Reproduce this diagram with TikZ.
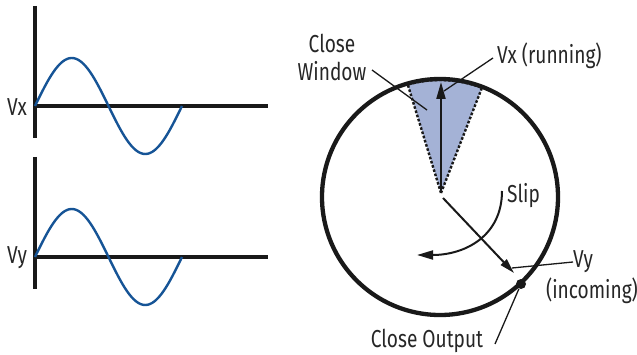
\documentclass[tikz,border=0pt]{standalone}
\usepackage{fontspec}
\setmainfont{Fira Sans}[FakeStretch=0.78]
\usetikzlibrary{arrows.meta}
\definecolor{wave}{RGB}{22,84,150}
\definecolor{wedge}{RGB}{164,178,214}
\tikzset{
  axis/.style={line width=4pt, black!90},
  sine/.style={line width=2.4pt, wave},
  ring/.style={line width=4.3pt, black!90},
  lead/.style={line width=1.3pt, black!90},
  vec/.style={line width=2pt, black!90, -{Triangle[length=17pt,width=9pt]}},
  lbl/.style={inner sep=0pt, font=\fontsize{24.5}{28}\selectfont, text=black!85},
}
\begin{document}
\begin{tikzpicture}[x=1pt,y=-1pt]
\useasboundingbox (0,0) rectangle (637,355);
% top plot
\coordinate (ta) at (35,6);
\coordinate (tb) at (35,138);
\coordinate (tc) at (35,106);
\coordinate (td) at (268,106);
\draw[axis] (ta) -- (tb);
\draw[axis] (tc) -- (td);
\draw[sine] plot[domain=0:360, samples=80] ({35+\x/360*147},{106-48*sin(\x)});
\node[lbl] (vx) at (17,107) {Vx};
% bottom plot
\coordinate (ba) at (35,157);
\coordinate (bb) at (35,289);
\coordinate (bc) at (35,257);
\coordinate (bd) at (268,257);
\draw[axis] (ba) -- (bb);
\draw[axis] (bc) -- (bd);
\draw[sine] plot[domain=0:360, samples=80] ({35+\x/360*147},{257-48*sin(\x)});
\node[lbl] (vy) at (17,258) {Vy};
% wheel
\coordinate (C) at (440,197);
\coordinate (O) at (441,193);
\fill[wedge] (O) -- plot[domain=69:106, samples=20] ({440+118*cos(\x)},{197-118*sin(\x)}) -- cycle;
\draw[ring] (C) circle[radius=118];
\draw[line width=2.4pt, black!90, dash pattern=on 2.6pt off 1.8pt]
  (O) -- plot[domain=69:106, samples=20] ({440+117*cos(\x)},{197-117*sin(\x)}) -- cycle;
\coordinate (vxtip) at (441,82);
\draw[vec] (O) -- (vxtip);
\coordinate (O2) at (443,198);
\coordinate (vytip) at (514,273);
\draw[line width=2pt, black!90, -{Triangle[length=15pt,width=8pt]}] (O2) -- (vytip);
\node[circle, fill=black!90, inner sep=0pt, minimum size=10pt] (dot) at (521,284) {};
% slip
\coordinate (s0) at (502,191);
\coordinate (s1) at (417,255);
\draw[line width=2pt, black!90, -{Triangle[length=16pt,width=9pt]}] (s0) .. controls (502,236) and (465,255) .. (s1);
\node[lbl, anchor=west] (slip) at (507,196) {Slip};
% labels
\node[lbl, align=center] (cw) at (332,57) {Close\\Window};
\coordinate (cwend) at (427,110);
\draw[lead] (372,70) -- (cwend);
\node[lbl, anchor=west] (vxr) at (497,56) {Vx (running)};
\coordinate (vxl) at (444,91);
\draw[lead] (493,58) -- (vxl);
\node[lbl, anchor=west] (vyl) at (573,262) {Vy};
\node[lbl] (inc) at (592,291) {(incoming)};
\coordinate (vyp) at (512,268);
\draw[lead] (vyl.west) -- (vyp);
\node[lbl] (co) at (427,341) {Close Output};
\coordinate (cop) at (495,344);
\draw[lead] (cop) -- (dot);
\end{tikzpicture}
\end{document}
